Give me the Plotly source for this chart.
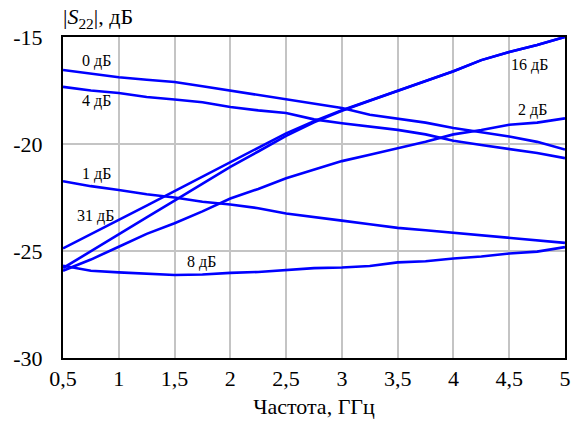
import plotly.graph_objects as go

freq = [0.5, 0.75, 1.0, 1.25, 1.5, 1.75, 2.0, 2.25, 2.5, 2.75, 3.0,
        3.25, 3.5, 3.75, 4.0, 4.25, 4.5, 4.75, 5.0]

s22_0db = [-16.54, -16.72, -16.88, -17.0, -17.1, -17.3, -17.5, -17.7, -17.93, -18.1,
           -18.32, -18.63, -18.82, -19.0, -19.25, -19.45, -19.65, -19.9, -20.26]
s22_4db = [-17.33, -17.5, -17.62, -17.8, -17.92, -18.05, -18.27, -18.43, -18.55, -18.85,
           -19.03, -19.2, -19.34, -19.55, -19.85, -20.05, -20.24, -20.42, -20.66]
s22_1db = [-21.74, -21.97, -22.15, -22.35, -22.5, -22.7, -22.83, -23.0, -23.25, -23.4,
           -23.58, -23.75, -23.92, -24.03, -24.15, -24.28, -24.38, -24.5, -24.62]
s22_8db = [-25.69, -25.92, -26.0, -26.05, -26.12, -26.1, -26.02, -25.98, -25.9, -25.8,
           -25.77, -25.7, -25.53, -25.48, -25.35, -25.26, -25.12, -25.03, -24.82]
s22_2db = [-25.92, -25.4, -24.8, -24.2, -23.7, -23.15, -22.55, -22.1, -21.6, -21.2,
           -20.8, -20.5, -20.2, -19.9, -19.55, -19.35, -19.1, -19.0, -18.8]
s22_31db = [-24.88, -24.22, -23.55, -22.88, -22.2, -21.52, -20.85, -20.18, -19.5, -18.93,
            -18.42, -17.97, -17.52, -17.05, -16.6, -16.08, -15.7, -15.37, -15.0]
s22_16db = [-25.8, -25.0, -24.22, -23.43, -22.65, -21.87, -21.07, -20.35, -19.62, -18.99,
            -18.45, -17.98, -17.52, -17.05, -16.6, -16.08, -15.7, -15.37, -15.0]

series = [s22_0db, s22_4db, s22_1db, s22_8db, s22_2db, s22_31db, s22_16db]

labels = ["0 дБ", "4 дБ", "1 дБ", "31 дБ", "8 дБ", "16 дБ", "2 дБ"]
label_x = [0.80, 0.80, 0.80, 0.79, 1.74, 4.68, 4.71]
label_y = [-16.12, -18.01, -21.38, -23.38, -25.53, -16.31, -18.41]

x_ticks = [0.5, 1, 1.5, 2, 2.5, 3, 3.5, 4, 4.5, 5]
x_ticktext = ["0,5", "1", "1,5", "2", "2,5", "3", "3,5", "4", "4,5", "5"]
y_ticks = [-30, -25, -20, -15]
y_ticktext = ["-30", "-25", "-20", "-15"]

FONT = "Liberation Serif"

fig = go.Figure()
for s in series:
    fig.add_trace(go.Scatter(x=freq, y=s, mode="lines",
                             line=dict(color="#0000ff", width=2.6),
                             showlegend=False, hoverinfo="skip"))

for t, lx, ly in zip(labels, label_x, label_y):
    fig.add_annotation(x=lx, y=ly, text=t, showarrow=False,
                       font=dict(family=FONT, size=16, color="black"))

fig.add_annotation(xref="paper", yref="paper", x=-0.003, y=1.008,
                   xanchor="left", yanchor="bottom",
                   text="|<i>S</i><sub>22</sub>|, дБ", showarrow=False,
                   font=dict(family=FONT, size=22, color="black"))

fig.update_xaxes(range=[0.5, 5], tickvals=x_ticks, ticktext=x_ticktext,
                 showgrid=True, gridcolor="#c4c4c4", gridwidth=1.5,
                 showline=True, linecolor="black", linewidth=2, mirror=True,
                 ticks="", zeroline=False,
                 tickfont=dict(family=FONT, size=22, color="black"),
                 title=dict(text="Частота, ГГц", standoff=8,
                            font=dict(family=FONT, size=22, color="black")))
fig.update_yaxes(range=[-30, -15], tickvals=y_ticks, ticktext=y_ticktext,
                 showgrid=True, gridcolor="#c4c4c4", gridwidth=1.5,
                 showline=True, linecolor="black", linewidth=2, mirror=True,
                 ticks="", zeroline=False, ticklabelstandoff=14,
                 tickfont=dict(family=FONT, size=22, color="black"))

fig.update_layout(width=584, height=427,
                  font=dict(family=FONT),
                  margin=dict(l=63, r=19, t=37, b=66),
                  plot_bgcolor="white", paper_bgcolor="white")

fig.write_html("out.html")
